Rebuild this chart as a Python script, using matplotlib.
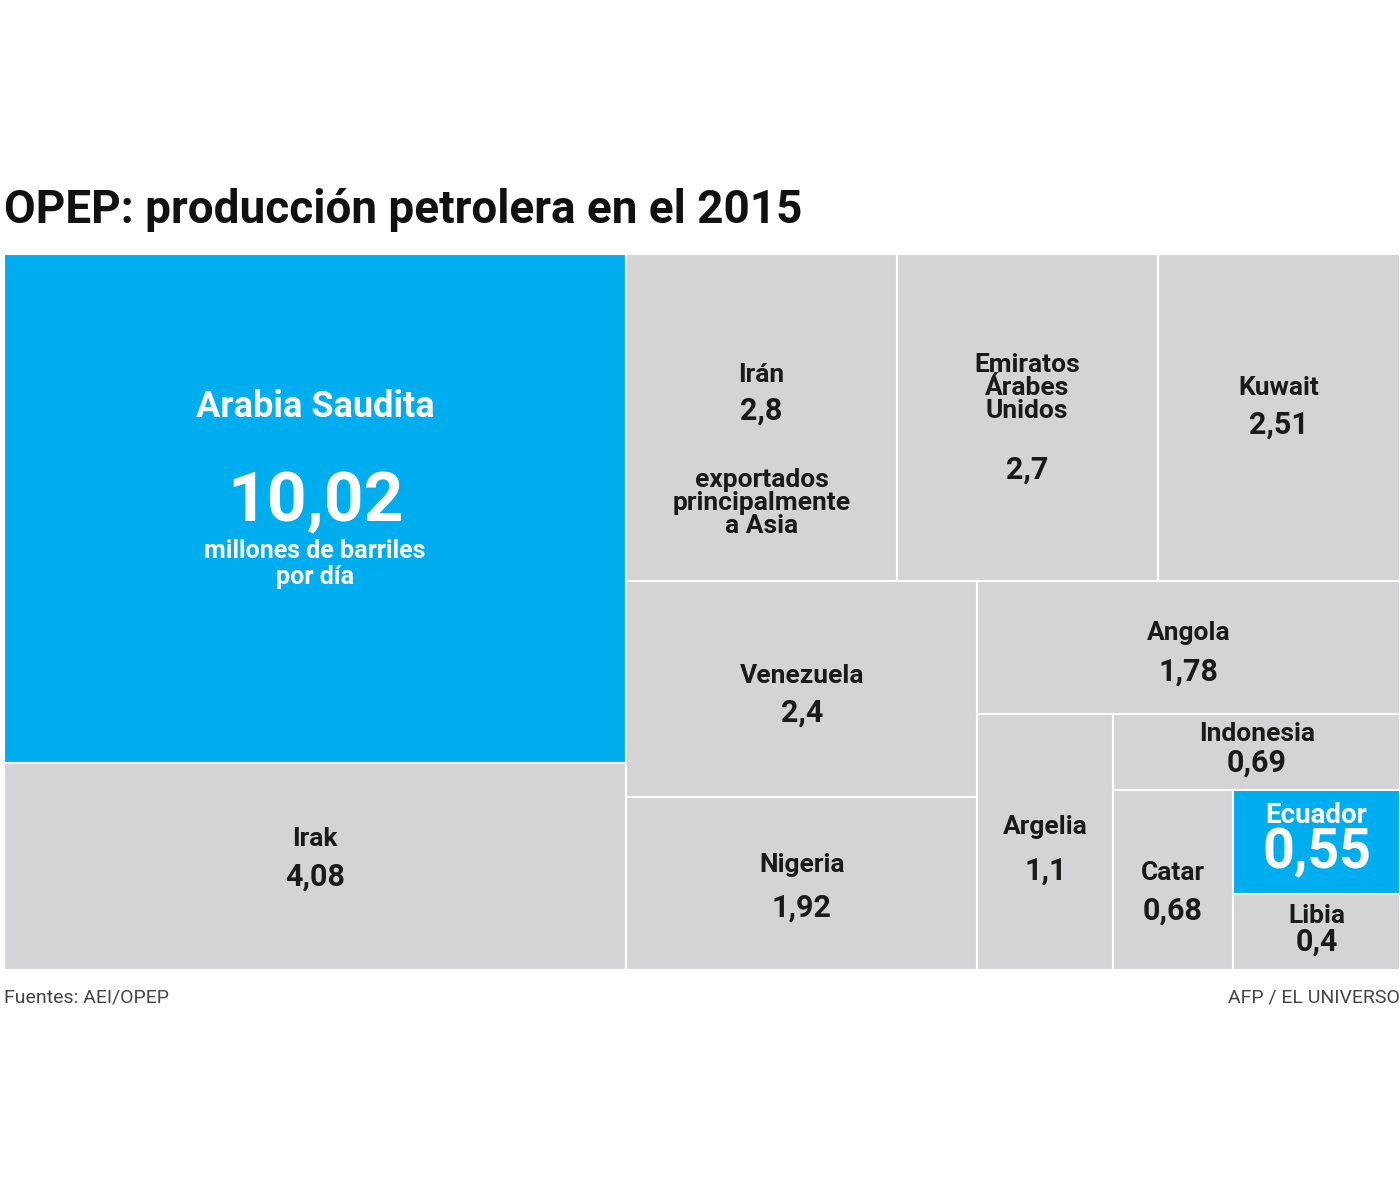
import matplotlib.pyplot as plt
from matplotlib.patches import Rectangle

plt.rcParams['font.family'] = ['Liberation Sans Narrow', 'Roboto', 'DejaVu Sans']

# data (millones de barriles por día)
paises = ['Arabia Saudita', 'Irak', 'Irán', 'Emiratos Árabes Unidos', 'Kuwait', 'Venezuela',
          'Nigeria', 'Angola', 'Argelia', 'Indonesia', 'Catar', 'Ecuador', 'Libia']
valores = [10.02, 4.08, 2.8, 2.7, 2.51, 2.4, 1.92, 1.78, 1.1, 0.69, 0.68, 0.55, 0.4]
etiquetas = ['10,02', '4,08', '2,8', '2,7', '2,51', '2,4', '1,92', '1,78', '1,1', '0,69', '0,68', '0,55', '0,4']
destacados = ['Arabia Saudita', 'Ecuador']

# split tree: ('h' = side by side, 'v' = stacked), children are indices or subtrees
arbol = ('h', [('v', [0, 1]),
               ('v', [('h', [2, 3, 4]),
                      ('h', [('v', [5, 6]),
                             ('v', [7, ('h', [8, ('v', [9, ('h', [10, ('v', [11, 12])])])])])])])])

def total(n):
    if isinstance(n, int):
        return valores[n]
    return sum(total(c) for c in n[1])

rects = {}
def layout(n, x, y, w, h):
    if isinstance(n, int):
        rects[n] = (x, y, w, h)
        return
    d, kids = n
    s = total(n)
    for c in kids:
        f = total(c) / s
        if d == 'h':
            layout(c, x, y, w * f, h)
            x += w * f
        else:
            layout(c, x, y, w, h * f)
            y += h * f

layout(arbol, 0, 0, 1, 1)

blue = '#00AEEF'
grey = '#D4D4D6'

fig = plt.figure(figsize=(14, 12), dpi=100)
ax = fig.add_axes([4 / 1400, 230 / 1200, 1396 / 1400, 716 / 1200])
ax.set_xlim(0, 1)
ax.set_ylim(1, 0)
ax.axis('off')

# text layout per cell: (name text, name y, name size, value y, value size)
textos = {
    0: ('Arabia Saudita', 0.30, 26, 0.49, 50),
    1: ('Irak', 0.37, 19, 0.55, 22),
    2: ('Irán', 0.37, 19, 0.48, 22),
    3: ('Emiratos\nÁrabes\nUnidos', 0.41, 19, 0.66, 22),
    4: ('Kuwait', 0.41, 19, 0.52, 22),
    5: ('Venezuela', 0.44, 19, 0.61, 22),
    6: ('Nigeria', 0.39, 19, 0.64, 22),
    7: ('Angola', 0.39, 19, 0.68, 22),
    8: ('Argelia', 0.44, 19, 0.61, 22),
    9: ('Indonesia', 0.26, 19, 0.64, 22),
    10: ('Catar', 0.46, 19, 0.67, 22),
    11: ('Ecuador', 0.24, 20, 0.61, 40),
    12: ('Libia', 0.29, 19, 0.63, 22),
}

for i, p in enumerate(paises):
    x, y, w, h = rects[i]
    col = blue if p in destacados else grey
    ax.add_patch(Rectangle((x, y), w, h, facecolor=col, edgecolor='white', linewidth=1.5))
    tc = 'white' if p in destacados else '#1a1a1a'
    name, ny, ns, vy, vs = textos[i]
    cx = x + w / 2
    ax.text(cx, y + h * ny, name, ha='center', va='center', fontsize=ns, fontweight='bold',
            color=tc, linespacing=0.95)
    ax.text(cx, y + h * vy, etiquetas[i], ha='center', va='center', fontsize=vs,
            fontweight='bold', color=tc)

x, y, w, h = rects[0]
ax.text(x + w / 2, y + h * 0.61, 'millones de barriles\npor día', ha='center', va='center',
        fontsize=18, fontweight='bold', color='white', linespacing=1.1)
x, y, w, h = rects[2]
ax.text(x + w / 2, y + h * 0.76, 'exportados\nprincipalmente\na Asia', ha='center', va='center',
        fontsize=19, fontweight='bold', color='#1a1a1a', linespacing=0.95)

fig.text(4 / 1400, 1 - 210 / 1200, 'OPEP: producción petrolera en el 2015', ha='left', va='center',
         fontsize=33, fontweight='bold', color='#111111')
fig.text(4 / 1400, 1 - 997 / 1200, 'Fuentes: AEI/OPEP', ha='left', va='center', fontsize=14,
         color='#444444')
fig.text(1, 1 - 997 / 1200, 'AFP / EL UNIVERSO', ha='right', va='center', fontsize=14,
         color='#444444')

fig.savefig('out.png', dpi=100, facecolor='white')
